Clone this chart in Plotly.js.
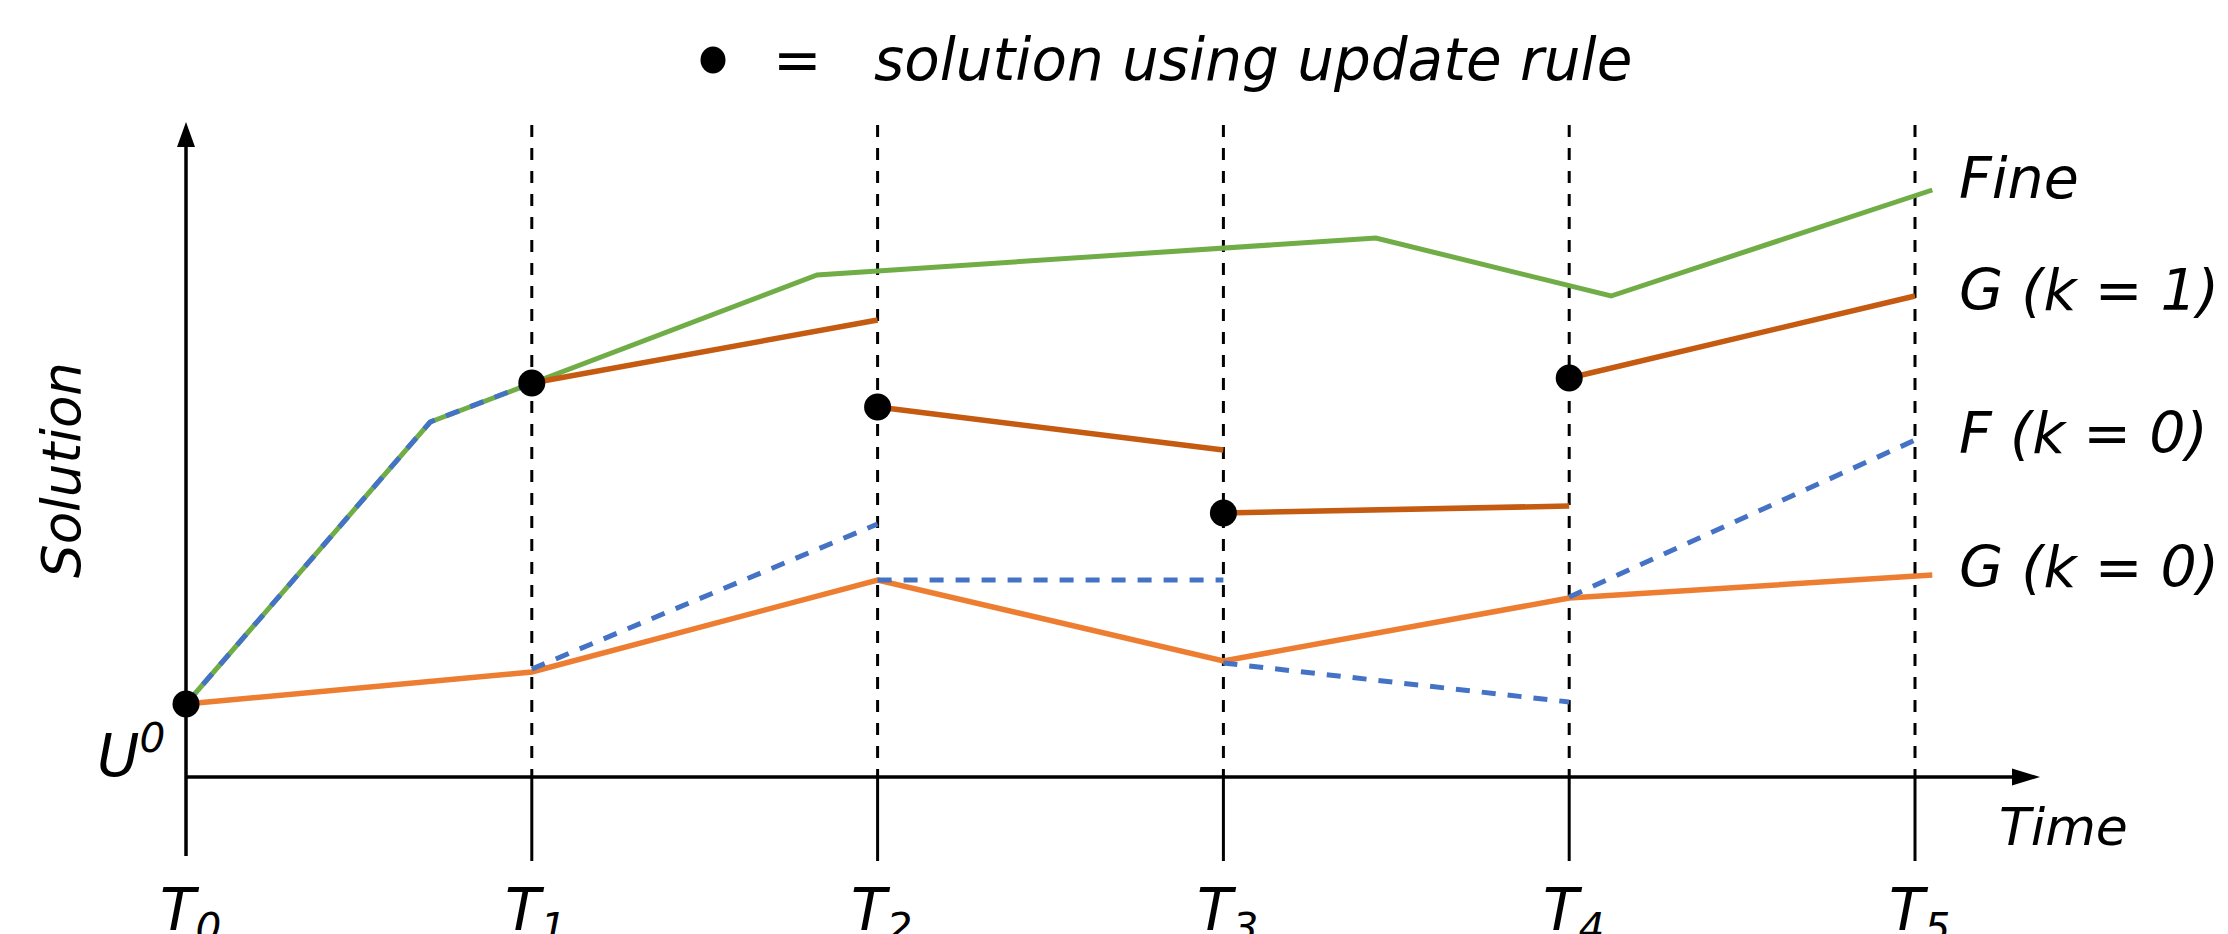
<!DOCTYPE html>
<html>
<head>
<meta charset="utf-8">
<script src="https://cdn.plot.ly/plotly-3.0.1.min.js"></script>
<style>html,body{margin:0;padding:0;background:#fff;}#chart{width:2228px;height:934px;}</style>
</head>
<body>
<div id="chart"></div>
<script>
// ---- data (time in units of coarse steps T_i, solution in arbitrary units; axis origin = U^0 baseline) ----
const timePoints = [0, 1, 2, 3, 4, 5];
const tickLabels = ['T<sub>0</sub>', 'T<sub>1</sub>', 'T<sub>2</sub>', 'T<sub>3</sub>', 'T<sub>4</sub>', 'T<sub>5</sub>'];

const fineX = [0, 0.706, 1.825, 3.441, 4.121, 5.05];
const fineY = [0.73, 3.55, 5.02, 5.39, 4.81, 5.87];

const g0X = [0, 1, 2, 3, 4, 5.05];
const g0Y = [0.73, 1.05, 1.97, 1.16, 1.79, 2.02];

const f0X = [0, 0.706, 1, null, 1, 2, null, 2, 3, null, 3, 4, null, 4, 5.02];
const f0Y = [0.73, 3.55, 3.94, null, 1.08, 2.53, null, 1.97, 1.97, null, 1.14, 0.75, null, 1.80, 3.40];

const g1X = [1, 2, null, 2, 3, null, 3, 4, null, 4, 5];
const g1Y = [3.94, 4.57, null, 3.70, 3.27, null, 2.64, 2.71, null, 3.99, 4.81];

const updX = [0, 1, 2, 3, 4];
const updY = [0.73, 3.94, 3.70, 2.64, 3.99];

const seriesLabels = ['Fine', 'G (k = 1)', 'F (k = 0)', 'G (k = 0)'];
const seriesLabelY = [5.99, 4.87, 3.44, 2.10];

// ---- layout helpers (pixel -> data for decorations) ----
const W = 2228, H = 934;
const PXX = 345.8, PXY = 100, OX = 186, OY = 777;
const dx = px => (px - OX) / PXX;
const dy = py => (OY - py) / PXY;

const C_FINE = '#70AD47', C_F = '#4472C4', C_G0 = '#ED7D31', C_G1 = '#C55A11';
const FONT = 'DejaVu Sans, Verdana, sans-serif';
const it = (size) => ({family: FONT, size: size, color: '#000', style: 'italic'});

// vertical T lines (dashed above the time axis, solid below)
const vDashX = [], vDashY = [], vSolX = [], vSolY = [];
timePoints.slice(1).forEach(t => {
  vDashX.push(t, t, null); vDashY.push(dy(125), 0, null);
  vSolX.push(t, t, null); vSolY.push(0, dy(861), null);
});

const traces = [
  {x: vDashX, y: vDashY, mode: 'lines', line: {color: '#000', width: 3, dash: '12px,11px'}, hoverinfo: 'skip'},
  {x: vSolX, y: vSolY, mode: 'lines', line: {color: '#000', width: 3}, hoverinfo: 'skip'},
  // axes
  {x: [0, dx(2015)], y: [0, 0], mode: 'lines', line: {color: '#000', width: 3.5}, hoverinfo: 'skip'},
  {x: [0, 0], y: [dy(856), dy(145)], mode: 'lines', line: {color: '#000', width: 3.5}, hoverinfo: 'skip'},
  // series
  {x: g0X, y: g0Y, mode: 'lines', name: 'G (k = 0)', line: {color: C_G0, width: 5.5}},
  {x: fineX, y: fineY, mode: 'lines', name: 'Fine', line: {color: C_FINE, width: 5}},
  {x: f0X, y: f0Y, mode: 'lines', name: 'F (k = 0)', line: {color: C_F, width: 5, dash: '14px,12px'}, connectgaps: false},
  {x: g1X, y: g1Y, mode: 'lines', name: 'G (k = 1)', line: {color: C_G1, width: 5.5}, connectgaps: false},
  {x: updX, y: updY, mode: 'markers', name: 'update rule', marker: {color: '#000', size: 27}}
];

const shapes = [
  // x-axis arrow head
  {type: 'path', xref: 'x', yref: 'y', fillcolor: '#000', line: {width: 0},
   path: `M${dx(2012)},${dy(768.5)} L${dx(2040)},${dy(777)} L${dx(2012)},${dy(785.5)} Z`},
  // y-axis arrow head
  {type: 'path', xref: 'x', yref: 'y', fillcolor: '#000', line: {width: 0},
   path: `M${dx(177)},${dy(147)} L${dx(186)},${dy(122)} L${dx(195)},${dy(147)} Z`},
  // legend key dot
  {type: 'circle', xref: 'x', yref: 'y', fillcolor: '#000', line: {width: 0},
   x0: dx(700.5), x1: dx(725.5), y0: dy(73.5), y1: dy(46.5)}
];

const annotations = [];
seriesLabels.forEach((s, i) => annotations.push({
  x: dx(1957), y: seriesLabelY[i], xref: 'x', yref: 'y', text: s, showarrow: false,
  xanchor: 'left', yanchor: 'middle', font: it(57)
}));
timePoints.forEach((t, i) => annotations.push({
  x: t + 0.012, y: dy(874), xref: 'x', yref: 'y', text: tickLabels[i], showarrow: false,
  xanchor: 'center', yanchor: 'top', font: it(58)
}));
annotations.push(
  {x: dx(95), y: dy(792), xref: 'x', yref: 'y', text: 'U<sup>0</sup>', showarrow: false,
   xanchor: 'left', yanchor: 'bottom', font: it(58)},
  {x: dx(1997), y: dy(827), xref: 'x', yref: 'y', text: 'Time', showarrow: false,
   xanchor: 'left', yanchor: 'middle', font: it(52)},
  {x: dx(61), y: dy(470), xref: 'x', yref: 'y', text: 'Solution', showarrow: false, textangle: -90,
   xanchor: 'center', yanchor: 'middle', font: it(53)},
  {x: dx(797), y: dy(60), xref: 'x', yref: 'y', text: '=', showarrow: false,
   xanchor: 'center', yanchor: 'middle', font: it(58)},
  {x: dx(872), y: dy(60), xref: 'x', yref: 'y', text: 'solution using update rule', showarrow: false,
   xanchor: 'left', yanchor: 'middle', font: it(58)}
);

const layout = {
  width: W, height: H, autosize: false,
  margin: {l: 0, r: 0, t: 0, b: 0, pad: 0},
  paper_bgcolor: '#fff', plot_bgcolor: '#fff',
  showlegend: false,
  xaxis: {range: [dx(0), dx(W)], visible: false, fixedrange: true},
  yaxis: {range: [dy(H), dy(0)], visible: false, fixedrange: true},
  shapes: shapes,
  annotations: annotations
};

Plotly.newPlot('chart', traces, layout, {staticPlot: true, displayModeBar: false});
</script>
</body>
</html>
